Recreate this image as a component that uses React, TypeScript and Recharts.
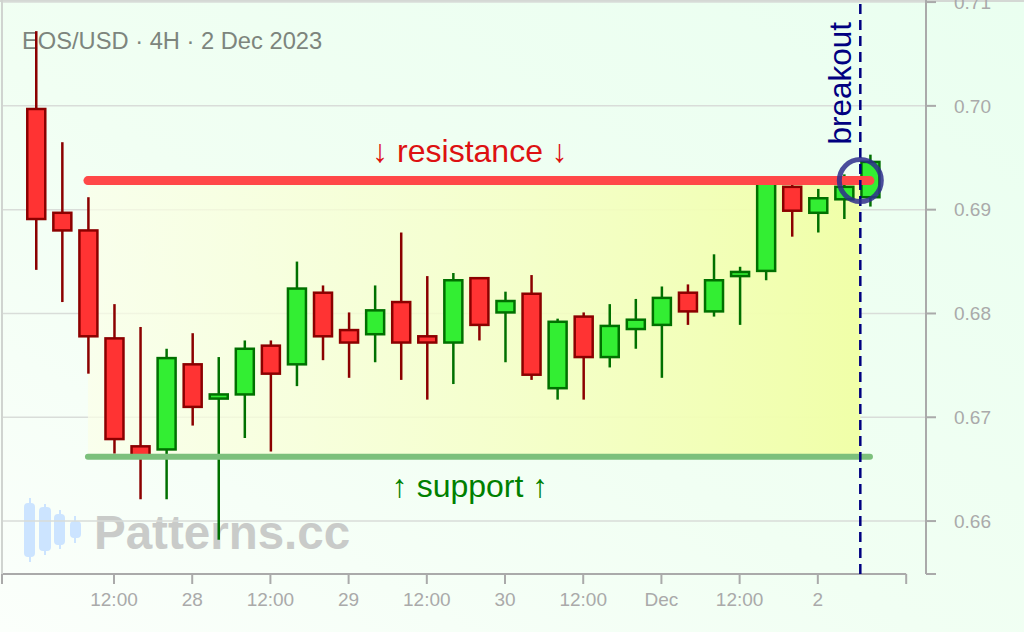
import React from 'react';
import {
  Bar,
  CartesianGrid,
  ComposedChart,
  ReferenceArea,
  ReferenceDot,
  ReferenceLine,
  XAxis,
  YAxis,
} from 'recharts';

// EOS/USD 4H candles, 27 Nov 00:00 → 2 Dec 08:00
const opens = [
  0.6997, 0.6897, 0.688, 0.6776, 0.6672, 0.6669, 0.6751, 0.6718, 0.6722, 0.6769, 0.6751,
  0.682, 0.6784, 0.678, 0.6811, 0.6778, 0.6772, 0.6834, 0.6801, 0.6819, 0.6728, 0.6797,
  0.6758, 0.6785, 0.6789, 0.682, 0.6802, 0.6836, 0.6841, 0.6922, 0.6897, 0.691, 0.6912,
];
const highs = [
  0.7072, 0.6965, 0.6912, 0.6809, 0.6787, 0.6766, 0.6781, 0.6758, 0.6774, 0.6774, 0.685,
  0.6827, 0.6801, 0.6827, 0.6878, 0.6836, 0.6839, 0.6835, 0.6821, 0.6837, 0.6795, 0.6801,
  0.6809, 0.6814, 0.6826, 0.6828, 0.6857, 0.6845, 0.6932, 0.693, 0.692, 0.6934, 0.6953,
];
const lows = [
  0.6842, 0.6811, 0.6742, 0.6665, 0.6621, 0.6621, 0.6692, 0.6582, 0.668, 0.6667, 0.673,
  0.6755, 0.6738, 0.6753, 0.6736, 0.6717, 0.6732, 0.6774, 0.6753, 0.6736, 0.6717, 0.6717,
  0.6748, 0.6766, 0.6738, 0.6789, 0.6797, 0.6789, 0.6832, 0.6874, 0.6878, 0.6891, 0.6903,
];
const closes = [
  0.6891, 0.688, 0.6778, 0.6679, 0.6662, 0.6757, 0.671, 0.6722, 0.6766, 0.6742, 0.6824,
  0.6778, 0.6772, 0.6803, 0.6772, 0.6772, 0.6832, 0.6789, 0.6812, 0.6741, 0.6792, 0.6758,
  0.6788, 0.6794, 0.6815, 0.6802, 0.6832, 0.684, 0.6928, 0.6899, 0.6911, 0.6922, 0.6946,
];

const xTickPos = [3, 6, 9, 12, 15, 18, 21, 24, 27, 30];
const xTickLabels = ['12:00', '28', '12:00', '29', '12:00', '30', '12:00', 'Dec', '12:00', '2'];
const yTicks = [0.66, 0.67, 0.68, 0.69, 0.7, 0.71];

const resistance = 0.6928;
const support = 0.6662;
const levelStart = 2;
const levelEnd = 32;
const breakoutAt = 31.63;

const X_MIN = -1.297;
const X_AXIS_END = 33.39;
const X_MAX = 34.15;
const Y_MIN = 0.6549;
const Y_MAX = 0.7102;

const FONT = '"Liberation Sans", Arial, Helvetica, sans-serif';
const AXIS_GREY = '#aaaaaa';

const candles = opens.map((open, i) => ({
  i,
  open,
  high: highs[i],
  low: lows[i],
  close: closes[i],
  range: [lows[i], highs[i]],
}));

function Candle(props: any) {
  const { x, y, width, height, payload } = props;
  if (!payload) return null;
  const { open, high, low, close } = payload;
  const top = Math.min(y, y + height);
  const bot = Math.max(y, y + height);
  const span = high - low || 1;
  const py = (v: number) => top + ((high - v) / span) * (bot - top);
  const cx = x + width / 2;
  const up = close >= open;
  const stroke = up ? '#007000' : '#8b0000';
  const fill = up ? '#33ee33' : '#ff3333';
  const bt = py(Math.max(open, close));
  const bb = py(Math.min(open, close));
  return (
    <g>
      <line x1={cx} x2={cx} y1={top} y2={bot} stroke={stroke} strokeWidth={2.5} />
      <rect
        x={cx - 9}
        y={bt}
        width={18}
        height={Math.max(bb - bt, 1)}
        fill={fill}
        stroke={stroke}
        strokeWidth={2.5}
      />
    </g>
  );
}

function xTickText(v: number) {
  const k = xTickPos.indexOf(v);
  return k >= 0 ? xTickLabels[k] : '';
}

export default function App() {
  return (
    <div
      style={{
        position: 'fixed',
        left: 0,
        top: 0,
        width: 1024,
        height: 632,
        overflow: 'hidden',
        fontFamily: FONT,
        background: 'linear-gradient(to top right, #fbfffb 0%, #f1fff3 45%, #eafff0 100%)',
      }}
    >
      <div style={{ position: 'absolute', left: 0, top: 0, width: 1024, height: 2, background: '#d4d8d4' }} />
      <div
        style={{
          position: 'absolute',
          left: 22,
          top: 29,
          fontSize: 23.7,
          lineHeight: '24px',
          color: '#7d857d',
          whiteSpace: 'nowrap',
        }}
      >
        EOS/USD · 4H · 2 Dec 2023
      </div>
      <svg style={{ position: 'absolute', left: 0, top: 0 }} width={100} height={632}>
        <g fill="#cce4ff" stroke="#cce4ff" strokeWidth={2}>
          <line x1={30} x2={30} y1={498} y2={562} />
          <rect x={25} y={504} width={9} height={52} rx={3} />
          <line x1={45} x2={45} y1={504} y2={555} />
          <rect x={40} y={508} width={10} height={42} rx={3} />
          <line x1={60} x2={60} y1={510} y2={549} />
          <rect x={55} y={515} width={9} height={29} rx={3} />
          <line x1={75} x2={75} y1={516} y2={543} />
          <rect x={71} y={522} width={9} height={15} rx={3} />
        </g>
      </svg>
      <div
        style={{
          position: 'absolute',
          left: 94,
          top: 509,
          fontSize: 47.5,
          lineHeight: '47px',
          fontWeight: 700,
          color: '#c9cbc9',
          whiteSpace: 'nowrap',
        }}
      >
        Patterns.cc
      </div>

      <div style={{ position: 'absolute', left: 0, top: 0 }}>
        <ComposedChart
          width={1024}
          height={632}
          data={candles}
          margin={{ top: 0, right: 0, bottom: 0, left: 2 }}
        >
          <defs>
            <linearGradient id="zone" x1="0" y1="0" x2="1" y2="0">
              <stop offset="0%" stopColor="#fbffe8" stopOpacity={0.7} />
              <stop offset="100%" stopColor="#f0ffa8" stopOpacity={1} />
            </linearGradient>
          </defs>
          <CartesianGrid
            vertical={false}
            horizontalValues={yTicks}
            stroke="#d9ddd9"
            strokeWidth={1.5}
          />
          <XAxis
            dataKey="i"
            type="number"
            domain={[X_MIN, X_MAX]}
            allowDataOverflow
            ticks={[X_MIN, ...xTickPos, X_AXIS_END]}
            interval={0}
            tickFormatter={xTickText}
            axisLine={false}
            tickLine={{ stroke: AXIS_GREY, strokeWidth: 2 }}
            tickSize={10}
            tickMargin={9}
            height={58}
            tick={{ fill: AXIS_GREY, fontSize: 19, fontFamily: FONT }}
          />
          <YAxis
            orientation="right"
            type="number"
            domain={[Y_MIN, Y_MAX]}
            allowDataOverflow
            ticks={[Y_MIN, ...yTicks]}
            interval={0}
            tickFormatter={(v: number) => (v < 0.659 ? '' : v.toFixed(2))}
            axisLine={{ stroke: AXIS_GREY, strokeWidth: 2 }}
            tickLine={{ stroke: AXIS_GREY, strokeWidth: 2 }}
            tickSize={10}
            tickMargin={18}
            width={98}
            tick={{ fill: AXIS_GREY, fontSize: 19, fontFamily: FONT }}
          />
          <ReferenceLine
            segment={[
              { x: X_MIN, y: Y_MIN },
              { x: X_AXIS_END, y: Y_MIN },
            ]}
            stroke={AXIS_GREY}
            strokeWidth={2}
            ifOverflow="visible"
          />
          <ReferenceLine x={X_MIN} stroke="#d0d4d0" strokeWidth={2} ifOverflow="visible" />
          <ReferenceArea
            x1={levelStart}
            x2={breakoutAt}
            y1={support}
            y2={resistance}
            fill="url(#zone)"
            fillOpacity={1}
            stroke="none"
          />
          <ReferenceLine
            segment={[
              { x: levelStart, y: resistance },
              { x: levelEnd, y: resistance },
            ]}
            stroke="#ff4848"
            strokeWidth={9}
            strokeLinecap="round"
            label={(p: any) => {
              const vb = p.viewBox || {};
              return (
                <text
                  x={470}
                  y={(vb.y ?? 181) - 19}
                  textAnchor="middle"
                  fill="#dd1111"
                  fontSize={32}
                  fontFamily={FONT}
                >
                  ↓ resistance ↓
                </text>
              );
            }}
          />
          <ReferenceLine
            segment={[
              { x: levelStart, y: support },
              { x: levelEnd, y: support },
            ]}
            stroke="#7cc07c"
            strokeWidth={6}
            strokeLinecap="round"
            label={(p: any) => {
              const vb = p.viewBox || {};
              return (
                <text
                  x={470}
                  y={(vb.y ?? 457) + 40}
                  textAnchor="middle"
                  fill="#008000"
                  fontSize={32}
                  fontFamily={FONT}
                >
                  ↑ support ↑
                </text>
              );
            }}
          />
          <Bar
            dataKey="range"
            barSize={19}
            shape={<Candle />}
            isAnimationActive={false}
          />
          <ReferenceLine
            x={breakoutAt}
            stroke="#000080"
            strokeWidth={2.5}
            strokeDasharray="10 6"
            label={(p: any) => {
              const vb = p.viewBox || {};
              const bx = (vb.x ?? 860) - 9;
              return (
                <text
                  x={bx}
                  y={22}
                  transform={`rotate(-90 ${bx} 22)`}
                  textAnchor="end"
                  fill="#000080"
                  fontSize={31.5}
                  fontFamily={FONT}
                >
                  breakout
                </text>
              );
            }}
          />
          <ReferenceDot
            x={breakoutAt}
            y={resistance}
            r={21}
            fill="none"
            stroke="#2e2e8c"
            strokeOpacity={0.85}
            strokeWidth={5}
          />
        </ComposedChart>
      </div>
    </div>
  );
}
